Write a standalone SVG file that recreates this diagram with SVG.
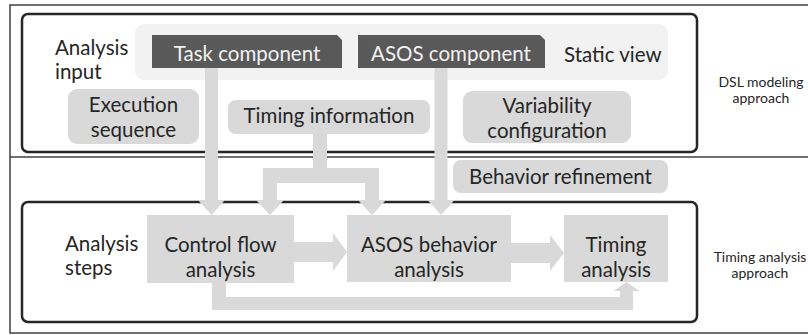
<svg xmlns="http://www.w3.org/2000/svg" width="808" height="335" viewBox="0 0 808 335">
  <style>
    text { font-family: Lato, "Liberation Sans", sans-serif; fill: #262626; }
    .lbl { font-size: 20.5px; }
    .side { font-size: 14px; text-anchor: middle; }
    .mid { text-anchor: middle; }
    .light { fill: #f2f2f2; }
    .frame { fill: none; stroke: #262626; stroke-width: 2.5; }
    .outer { fill: none; stroke: #404040; stroke-width: 1.5; }
    .box { fill: #d9d9d9; }
    .panel { fill: #f2f2f2; }
    .comp { fill: #595959; }
    .conn { fill: #d9d9d9; }
  </style>

  <rect width="808" height="335" fill="#ffffff"/>

  <!-- page frame and band separator -->
  <g id="frames">
    <rect class="outer" x="10" y="5" width="810" height="328"/>
    <line class="outer" x1="10" y1="157" x2="808" y2="157"/>
    <rect class="frame" x="22" y="14" width="675" height="138" rx="6"/>
    <rect class="frame" x="22" y="202" width="675" height="120" rx="6"/>
  </g>

  <!-- analysis input band -->
  <g id="static-view">
    <rect class="panel" x="135" y="24" width="533" height="56" rx="9"/>
    <text class="lbl" x="564" y="62">Static view</text>
  </g>
  <g id="task-component">
    <polygon class="comp" points="152,35 337,35 342,40 342,68 152,68"/>
    <text class="lbl mid light" x="247" y="61">Task component</text>
  </g>
  <g id="asos-component">
    <polygon class="comp" points="358,35 540,35 545,40 545,68 358,68"/>
    <text class="lbl mid light" x="451" y="61">ASOS component</text>
  </g>
  <g id="execution-sequence">
    <rect class="box" x="68" y="89" width="131" height="55" rx="9"/>
    <text class="lbl mid" x="133.5" y="112">Execution</text>
    <text class="lbl mid" x="133.5" y="137">sequence</text>
  </g>
  <g id="timing-information">
    <rect class="box" x="228" y="100" width="202" height="34" rx="8"/>
    <text class="lbl mid" x="329" y="123">Timing information</text>
  </g>
  <g id="variability-configuration">
    <rect class="box" x="463" y="91" width="168" height="52" rx="9"/>
    <text class="lbl mid" x="547" y="113">Variability</text>
    <text class="lbl mid" x="547" y="138">configuration</text>
  </g>
  <g id="analysis-input-label">
    <text class="lbl" x="55" y="55">Analysis</text>
    <text class="lbl" x="55" y="79">input</text>
  </g>
  <g id="dsl-label">
    <text class="side" x="761" y="87">DSL modeling</text>
    <text class="side" x="761" y="103">approach</text>
  </g>

  <!-- analysis steps band -->
  <g id="behavior-refinement">
    <rect class="box" x="453" y="160" width="215" height="33" rx="8"/>
    <text class="lbl mid" x="560.5" y="184">Behavior refinement</text>
  </g>
  <g id="control-flow-analysis">
    <rect class="box" x="147" y="215" width="147" height="68"/>
    <text class="lbl mid" x="220.5" y="252">Control flow</text>
    <text class="lbl mid" x="220.5" y="277">analysis</text>
  </g>
  <g id="asos-behavior-analysis">
    <rect class="box" x="347" y="215" width="164" height="67"/>
    <text class="lbl mid" x="429" y="252">ASOS behavior</text>
    <text class="lbl mid" x="429" y="277">analysis</text>
  </g>
  <g id="timing-analysis">
    <rect class="box" x="564" y="215" width="104" height="67"/>
    <text class="lbl mid" x="616" y="252">Timing</text>
    <text class="lbl mid" x="616" y="277">analysis</text>
  </g>
  <g id="analysis-steps-label">
    <text class="lbl" x="65" y="251">Analysis</text>
    <text class="lbl" x="65" y="275">steps</text>
  </g>
  <g id="timing-label">
    <text class="side" x="760" y="262">Timing analysis</text>
    <text class="side" x="760" y="278">approach</text>
  </g>

  <!-- block arrows -->
  <g id="connectors">
    <!-- task component to control flow analysis -->
    <polygon class="conn" points="205,68 218,68 218,200 225,200 211.5,215 198,200 205,200"/>
    <!-- timing information fork to both analyses -->
    <polygon class="conn" points="313,134 327,134 327,168 379,168 379,200 386,200 372,215 358,200 365,200 365,183 277,183 277,200 284,200 270,215 256,200 263,200 263,168 313,168"/>
    <!-- ASOS component to ASOS behavior analysis -->
    <polygon class="conn" points="434.5,68 447.5,68 447.5,200 454.5,200 441,215 427.5,200 434.5,200"/>
    <!-- control flow to ASOS behavior -->
    <polygon class="conn" points="294,242 333,242 333,233 347,252 333,271 333,262 294,262"/>
    <!-- ASOS behavior to timing -->
    <polygon class="conn" points="511,243 550,243 550,235 564,253 550,271 550,263 511,263"/>
    <!-- control flow directly to timing -->
    <polygon class="conn" points="212,283 226,283 226,297 620,297 620,291 613.5,291 626.5,282 639.5,291 633,291 633,310 212,310"/>
  </g>
</svg>
